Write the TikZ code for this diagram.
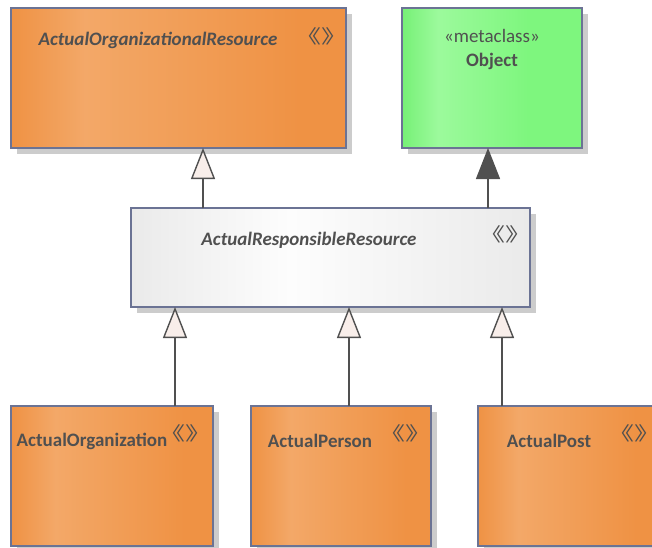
\documentclass[tikz,border=0pt]{standalone}
\usepackage{fontspec}
\setmainfont{Carlito}
\newfontfamily\eacjk{Noto Sans CJK SC}
\usetikzlibrary{arrows.meta,shadows}
\definecolor{eaorange}{RGB}{239,146,68}
\definecolor{eaorangelight}{RGB}{243,168,104}
\definecolor{eagreen}{RGB}{118,240,118}
\definecolor{eagreenlight}{RGB}{156,250,156}
\definecolor{eagreenright}{RGB}{126,246,126}
\definecolor{eagray}{RGB}{234,234,234}
\definecolor{eagraylight}{RGB}{253,253,253}
\definecolor{eaborder}{RGB}{107,115,148}
\definecolor{eashadow}{RGB}{204,204,204}
\definecolor{eatext}{RGB}{80,80,80}
\definecolor{eahollow}{RGB}{248,238,234}
\pgfdeclarehorizontalshading{eaorangeshade}{100bp}{color(0bp)=(eaorange); color(25bp)=(eaorange); color(36bp)=(eaorangelight); color(68bp)=(eaorange); color(100bp)=(eaorange)}
\pgfdeclarehorizontalshading{eagreenshade}{100bp}{color(0bp)=(eagreen); color(25bp)=(eagreen); color(35bp)=(eagreenlight); color(60bp)=(eagreenright); color(100bp)=(eagreenright)}
\pgfdeclarehorizontalshading{eagrayshade}{100bp}{color(0bp)=(eagray); color(25bp)=(eagray); color(45bp)=(eagraylight); color(75bp)=(eagray); color(100bp)=(eagray)}
\newcommand{\eastereotype}{\makebox[1em]{\scalebox{1}[0.72]{《》}}}
\tikzset{
  eabox/.style={draw=eaborder, line width=1.4pt, inner sep=0pt, outer sep=0pt, anchor=north west,
    drop shadow={fill=eashadow, opacity=1, shadow xshift=6pt, shadow yshift=-6pt}},
  eaorange/.style={eabox, shading=eaorangeshade, minimum height=140pt},
  eagreen/.style={eabox, shading=eagreenshade, minimum height=140pt},
  eagray/.style={eabox, shading=eagrayshade, minimum height=99pt},
  eaname/.style={font=\fontsize{19}{22}\selectfont\bfseries, text=eatext, inner sep=0pt},
  eaabstract/.style={eaname, font=\fontsize{19}{22}\selectfont\bfseries\itshape},
  eastereo/.style={font=\eacjk\fontsize{26}{26}\selectfont, text=eatext, inner sep=0pt},
  eagen/.style={draw=eatext, line width=1.4pt, -{Triangle[length=31pt, width=24pt, fill=eahollow]}},
  eagenfill/.style={draw=eatext, line width=1.4pt, -{Triangle[length=31pt, width=24pt, fill=eatext]}}
}

\begin{document}
\begin{tikzpicture}[x=1pt, y=-1pt]
  \useasboundingbox (0,0) rectangle (652,547);

  % top row
  \node[eaorange, minimum width=335pt] (aor) at (11,8) {};
  \node[eaabstract] (aortxt) at (158,40) {ActualOrganizationalResource};
  \node[eastereo] (aorst) at (321,36) {\eastereotype};

  \node[eagreen, minimum width=180pt] (obj) at (402,8) {};
  \node[font=\fontsize{19}{22}\selectfont, text=eatext, inner sep=0pt] (objst) at (492,36) {«metaclass»};
  \node[eaname] (objtxt) at (492,61) {Object};

  % middle
  \node[eagray, minimum width=399pt] (arr) at (131,208) {};
  \node[eaabstract] (arrtxt) at (309,240) {ActualResponsibleResource};
  \node[eastereo] (arrst) at (505,234) {\eastereotype};

  % bottom row
  \node[eaorange, minimum width=202pt] (org) at (11,406) {};
  \node[eaname] (orgtxt) at (92,441) {ActualOrganization};
  \node[eastereo] (orgst) at (185,433) {\eastereotype};

  \node[eaorange, minimum width=180pt] (per) at (251,406) {};
  \node[eaname] (pertxt) at (320,441) {ActualPerson};
  \node[eastereo] (perst) at (405,433) {\eastereotype};

  \node[eaorange, minimum width=184pt] (pst) at (478,406) {};
  \node[eaname] (psttxt) at (549,441) {ActualPost};
  \node[eastereo] (pstst) at (634,433) {\eastereotype};

  % generalizations
  \draw[eagen] ([xshift=72pt]arr.north west) -- ([xshift=192pt]aor.south west);
  \draw[eagenfill] ([xshift=-42pt]arr.north east) -- ([xshift=86pt]obj.south west);
  \draw[eagen] ([xshift=164pt]org.north west) -- ([xshift=44pt]arr.south west);
  \draw[eagen] ([xshift=98pt]per.north west) -- ([xshift=218pt]arr.south west);
  \draw[eagen] ([xshift=24pt]pst.north west) -- ([xshift=371pt]arr.south west);
\end{tikzpicture}
\end{document}
